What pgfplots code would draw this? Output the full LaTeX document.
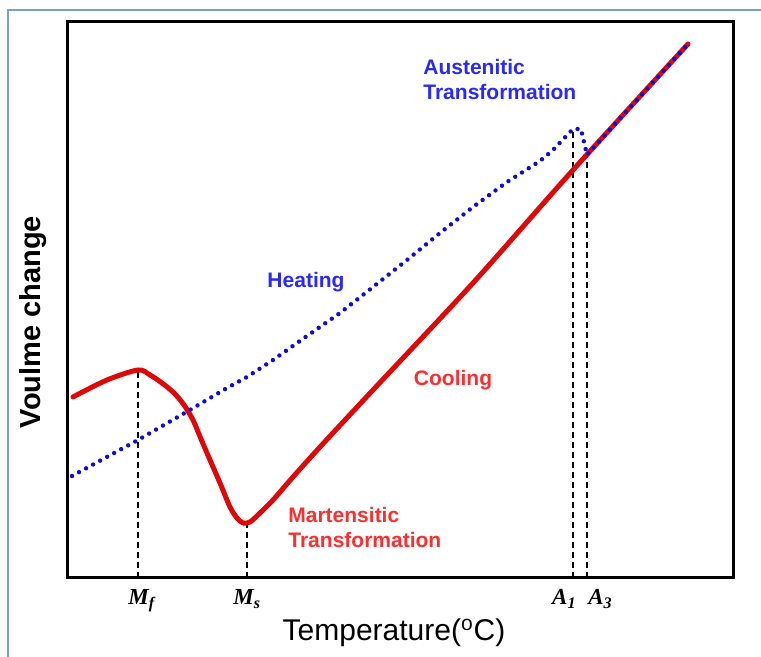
\documentclass[border=0pt]{standalone}
\usepackage{pgfplots}
\pgfplotsset{compat=1.18}
\usepackage{fontspec}
\setmainfont{Liberation Sans}
\newfontfamily\timesf{Liberation Serif}
\definecolor{cred}{RGB}{222,8,8}
\definecolor{cblue}{RGB}{10,10,225}
\definecolor{tred}{RGB}{255,45,45}
\definecolor{tblue}{RGB}{40,40,255}
\definecolor{frameblue}{RGB}{120,160,212}
\begin{document}
\begin{tikzpicture}
\path[use as bounding box] (0,0) rectangle (380.5pt,328.5pt);
\begin{axis}[
  at={(34pt,39.5pt)}, anchor=south west,
  scale only axis, width=332.5pt, height=278pt,
  xmin=68, xmax=733, ymin=79, ymax=635,
  xtick=\empty, ytick=\empty,
  axis line style={line width=1.5pt, black},
  clip=false,
]
% frame of the figure
\draw[frameblue, line width=1pt] (axis cs:8,0) -- (axis cs:8,647) -- (axis cs:761,647);
% dashed guides
\addplot[black, line width=0.6pt, dash pattern=on 3pt off 2pt] coordinates {(138,79) (138,287)};
\addplot[black, line width=0.6pt, dash pattern=on 3pt off 2pt] coordinates {(247,79) (247,134)};
\addplot[black, line width=0.6pt, dash pattern=on 3pt off 2pt] coordinates {(573,79) (573,528)};
\addplot[black, line width=0.6pt, dash pattern=on 3pt off 2pt] coordinates {(587,79) (587,502)};
% cooling
\addplot[cred, line width=2.5pt, line join=round, line cap=round, smooth, tension=0.5] coordinates {
(73,260) (107,277) (138,287) (150,282) (162,274) (174,264) (184,252) (193,237)
(201,218) (210,197) (220,174) (230,150) (237,139) (243,134) (250,135) (260,144)
(273,157) (293,180) (320,210) (373,267) (473,374) (573,487) (688,613)};
% heating
\addplot[cblue, line width=2.2pt, line cap=round, dash pattern=on 0pt off 4pt] coordinates {
(72,181) (138,217) (183,243) (227,269) (247,280) (273,297) (307,321) (340,344)
(373,370) (407,397) (440,424) (473,450) (507,475) (540,496) (553,507) (573,528)
(581,528) (587,502) (688,613)};
% annotations
\node[tblue, font=\fontsize{10.5}{12.5}\selectfont\bfseries, align=left, anchor=west, inner sep=0pt] at (axis cs:423,577.5) {Austenitic\\Transformation};
\node[tblue, font=\fontsize{10.5}{12.5}\selectfont\bfseries, inner sep=0pt] at (axis cs:306,375) {Heating};
\node[tred, font=\fontsize{10.5}{12.5}\selectfont\bfseries, inner sep=0pt] at (axis cs:453,277) {Cooling};
\node[tred, font=\fontsize{10.5}{12.5}\selectfont\bfseries, align=left, anchor=west, inner sep=0pt] at (axis cs:288,129.5) {Martensitic\\Transformation};
% tick labels
\node[font=\fontsize{11.5}{13}\timesf\bfseries\itshape, anchor=base west, inner sep=0pt] at (axis cs:128,52) {M\textsubscript{f}};
\node[font=\fontsize{11.5}{13}\timesf\bfseries\itshape, anchor=base west, inner sep=0pt] at (axis cs:233,52) {M\textsubscript{s}};
\node[font=\fontsize{11.5}{13}\timesf\bfseries\itshape, anchor=base east, inner sep=0pt] at (axis cs:577,52) {A\textsubscript{1}};
\node[font=\fontsize{11.5}{13}\timesf\bfseries\itshape, anchor=base west, inner sep=0pt] at (axis cs:588,52) {A\textsubscript{3}};
% axis labels
\node[font=\fontsize{15}{17}\selectfont, inner sep=0pt] at (axis cs:394,24) {Temperature(\textsuperscript{o}C)};
\node[font=\fontsize{14.5}{17}\selectfont\bfseries, rotate=90, inner sep=0pt] at (axis cs:33,335) {Voulme change};
\end{axis}
\end{tikzpicture}
\end{document}
